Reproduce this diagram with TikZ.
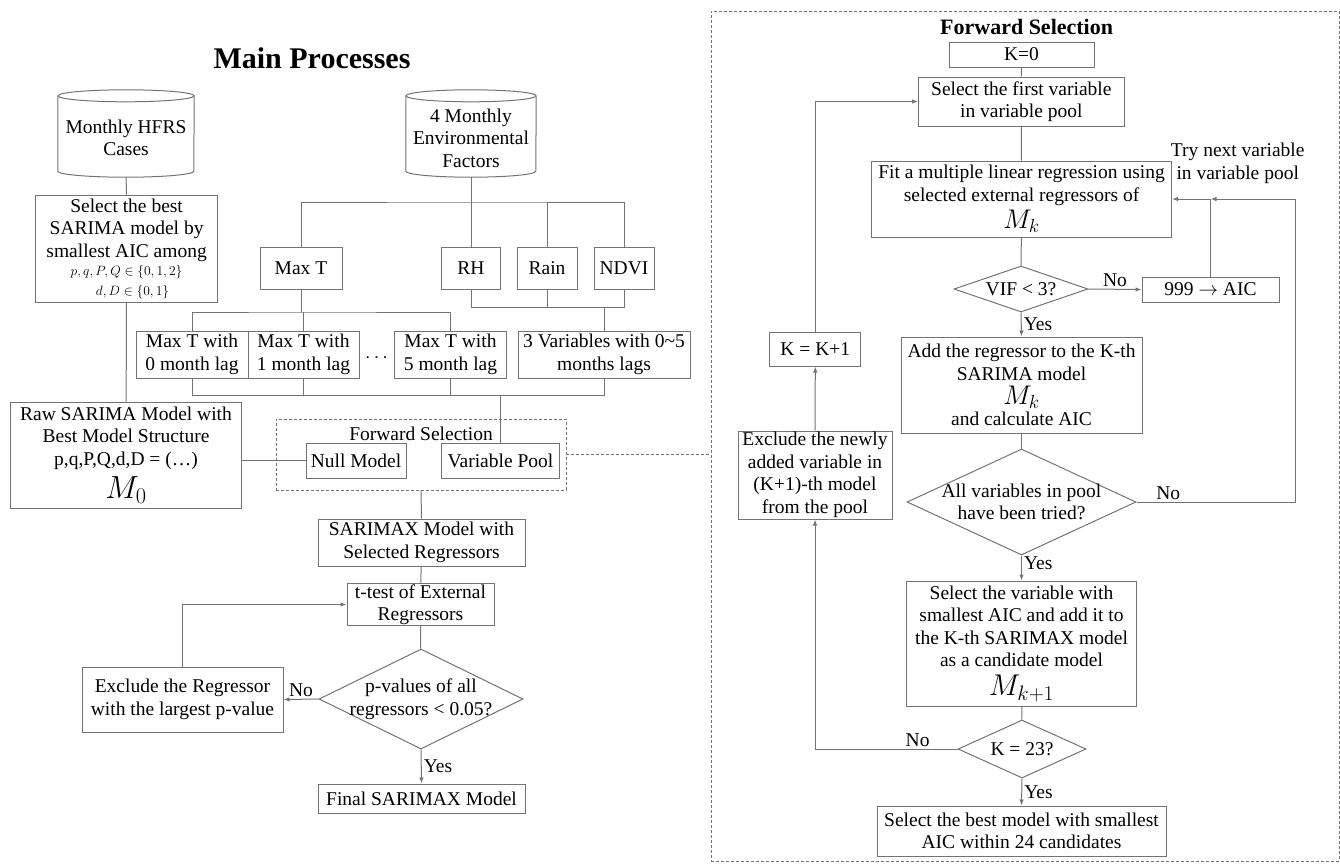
\RequirePackage{fix-cm}
\documentclass[tikz,border=0pt]{standalone}
\usepackage{fontspec}
\setmainfont{Liberation Serif}
\usetikzlibrary{shapes.geometric, arrows.meta}

\newcommand{\bodyfont}{\fontsize{19.5}{22.5}\selectfont}

\tikzset{
    line/.style = {draw=black!55, line width=1pt},
    arrow/.style = {line, -{Latex[length=6pt,width=4.5pt]}},
    box/.style = {line, align=center, inner sep=1pt, font=\bodyfont},
    store/.style = {align=center, inner sep=0pt, minimum height=78, font=\bodyfont},
    decision/.style = {diamond, line, inner sep=0pt},
    group/.style = {draw=black!55, line width=0.8pt, dash pattern=on 3pt off 2pt},
    lbl/.style = {font=\bodyfont, inner sep=2pt, align=center},
    title/.style = {font=\fontsize{30}{36}\selectfont\bfseries},
}

\begin{document}
\begin{tikzpicture}[x=1pt, y=1pt]
    \useasboundingbox (0,0) rectangle (1340,-863);

    % main processes
    \node [title] (maintitle) at (312,-58) {Main Processes};

    \node [store, minimum width=136] (hfrs) at (126,-138) {Monthly HFRS\\Cases};
    \node [store, minimum width=130] (env) at (471,-138) {4 Monthly\\Environmental\\Factors};

    \draw [line] ([yshift=3]hfrs.north) ellipse [x radius=68, y radius=6];
    \draw [line]
        ([yshift=3]hfrs.north west) -- ([yshift=6]hfrs.south west)
        arc [start angle=180, end angle=360, x radius=68, y radius=6]
        -- ([yshift=3]hfrs.north east)
        ;
    \draw [line] ([yshift=3]env.north) ellipse [x radius=65, y radius=6];
    \draw [line]
        ([yshift=3]env.north west) -- ([yshift=6]env.south west)
        arc [start angle=180, end angle=360, x radius=65, y radius=6]
        -- ([yshift=3]env.north east)
        ;

    \node [box, minimum width=182, minimum height=107] (best) at (126.6,-248.5)
        {Select the best\\SARIMA model by\\smallest AIC among\\[-4pt]
         {\fontsize{13.5}{16}\selectfont $p,q,P,Q\in\{0,1,2\}$}\\[-3pt]
         {\fontsize{13.5}{16}\selectfont \hspace*{12pt}$d,D\in\{0,1\}$}};
    \node [box, minimum width=231, minimum height=106] (raw) at (126,-455)
        {Raw SARIMA Model with\\Best Model Structure\\p,q,P,Q,d,D = (…)\\[6.5pt]
         {\fontsize{32}{32}\selectfont $M_0$}};

    \node [box, minimum width=82, minimum height=42] (maxt) at (301,-268) {Max T};
    \node [box, minimum width=58.5, minimum height=42] (rh) at (471,-268) {RH};
    \node [box, minimum width=60, minimum height=42] (rain) at (547,-268) {Rain};
    \node [box, minimum width=60, minimum height=42] (ndvi) at (624,-268) {NDVI};

    \node [box, minimum width=112, minimum height=47] (lag0) at (192,-354.5) {Max T with\\0 month lag};
    \node [box, minimum width=111, minimum height=47] (lag1) at (303.5,-354.5) {Max T with\\1 month lag};
    \node [font=\bodyfont] (dots) at (376.5,-358) {$\cdots$};
    \node [box, minimum width=112, minimum height=47] (lag5) at (450.5,-354.5) {Max T with\\5 month lag};
    \node [box, minimum width=172, minimum height=47] (threevar) at (604,-354.5)
        {3 Variables with 0\textasciitilde5\\months lags};

    \node [group, minimum width=290, minimum height=71] (fsgroup) at (421,-454.5) {};
    \node [lbl] (fslabel) at (421,-434) {Forward Selection};
    \node [box, minimum width=100, minimum height=35] (null) at (356,-460.5) {Null Model};
    \node [box, minimum width=118, minimum height=35] (pool) at (500.5,-460.5) {Variable Pool};

    \node [box, minimum width=207, minimum height=47] (sarimax) at (421.5,-542.5)
        {SARIMAX Model with\\Selected Regressors};
    \node [box, minimum width=147, minimum height=41] (ttest) at (420.5,-604.5)
        {t-test of External\\Regressors};
    \node [decision, minimum width=204, minimum height=100,
        label={[lbl]center:{p-values of all\\regressors < 0.05?}}] (pval) at (421,-699) {};
    \node [box, minimum width=201, minimum height=65] (drop) at (182.5,-699.5)
        {Exclude the Regressor\\with the largest p-value};
    \node [box, minimum width=207, minimum height=29] (final) at (421.5,-798.5) {Final SARIMAX Model};

    % connectors, left
    \draw [line] (hfrs) -- (best);
    \draw [line] (best) -- (raw);
    \draw [line] (raw.east |- null) -- (null.west);

    \coordinate (envbus) at (471,-202);
    \draw [line] (env) -- (rh);
    \draw [line] (maxt.north) |- (envbus) -| (ndvi.north);
    \draw [line] (rain.north) -- (rain.north |- envbus);

    \coordinate (maxbus) at (303.5,-312);
    \draw [line] (maxt.south) -- (maxt.south |- maxbus);
    \draw [line] (lag0.north) |- (maxbus) -| (lag5.north);
    \draw [line] (maxbus) -- (lag1.north);

    \coordinate (varbus) at (604,-307);
    \draw [line] (rh.south) |- (ndvi.south |- varbus) -- (ndvi.south);
    \draw [line] (rain.south) -- (rain.south |- varbus);
    \draw [line] (varbus) -- (threevar.north);

    \coordinate (poolbus) at (500.5,-395);
    \draw [line] (lag0.south) |- (threevar.south |- poolbus) -- (threevar.south);
    \draw [line] (lag1.south) -- (lag1.south |- poolbus);
    \draw [line] (lag5.south) -- (lag5.south |- poolbus);
    \draw [line] (poolbus) -- (pool.north);

    \draw [line] (fsgroup.south) -- (sarimax.north);
    \draw [line] (sarimax) -- (ttest);
    \draw [line] (ttest) -- (pval);
    \draw [arrow] (pval.west) -- node [lbl, above] (pvalno) {No} (drop.east);
    \draw [arrow] (drop.north) |- (ttest.west);
    \draw [arrow] (pval.south) -- node [lbl, right] (pvalyes) {Yes} (final.north);

    % forward selection
    \node [group, minimum width=628, minimum height=850] (fsframe) at (1025,-436) {};
    \draw [group] (fsgroup.east) -- (fsgroup.east -| fsframe.west);

    \node [title, font=\fontsize{22}{26}\selectfont\bfseries] (fstitle) at (1026.6,-27) {Forward Selection};
    \node [box, minimum width=145, minimum height=25] (kzero) at (1021.5,-54.5) {K=0};
    \node [box, minimum width=205.5, minimum height=49] (first) at (1021.3,-101.5)
        {Select the first variable\\in variable pool};
    \node [box, minimum width=300, minimum height=76] (fit) at (1021.5,-199)
        {Fit a multiple linear regression using\\selected external regressors of\\[4pt]
         {\fontsize{27}{27}\selectfont $M_k$}};
    \node [lbl] (trynext) at (1237.7,-163.5) {Try next variable\\in variable pool};
    \node [decision, minimum width=134, minimum height=46,
        label={[lbl]center:{VIF < 3?}}] (vif) at (1021,-289) {};
    \node [box, minimum width=137, minimum height=25] (aic) at (1210.5,-289.5) {999 $\rightarrow$ AIC};
    \node [box, minimum width=241, minimum height=96] (add) at (1021.5,-385)
        {Add the regressor to the K-th\\SARIMA model\\[2pt]
         {\fontsize{27}{27}\selectfont $M_k$}\\[-1.5pt]and calculate AIC};
    \node [decision, minimum width=229, minimum height=106,
        label={[lbl]center:{All variables in pool\\have been tried?}}] (all) at (1021.5,-502) {};
    \node [box, minimum width=230, minimum height=125] (pick) at (1021.5,-643.5)
        {Select the variable with\\smallest AIC and add it to\\the K-th SARIMAX model\\as a candidate model\\[6.5pt]
         {\fontsize{30}{30}\selectfont $M_{k+1}$}};
    \node [decision, minimum width=128, minimum height=58,
        label={[lbl]center:{K = 23?}}] (kend) at (1022,-749) {};
    \node [box, minimum width=289, minimum height=50] (bestmodel) at (1021.5,-831)
        {Select the best model with smallest\\AIC within 24 candidates};
    \node [box, minimum width=91, minimum height=34] (kinc) at (815.3,-349) {K = K+1};
    \node [box, minimum width=154, minimum height=88] (dropnew) at (815,-475)
        {Exclude the newly\\added variable in\\(K+1)-th model\\from the pool};

    % connectors, right
    \coordinate (tryback) at (1295.3,-199);
    \draw [line] (kzero) -- (first);
    \draw [line] (first) -- (fit);
    \draw [line] (fit) -- (vif);
    \draw [arrow] (vif.east) -- node [lbl, above] (vifno) {No} (aic.west);
    \draw [arrow] (aic.north) |- (fit.east);
    \draw [arrow] (vif.south) -- node [lbl, right] (vifyes) {Yes} (add.north);
    \draw [line] (add) -- (all);
    \draw [arrow]
        (all.east)
        -| node [lbl, above, pos=0.1] (allno) {No}
        (tryback)
        -- (aic.north |- fit.east)
        ;
    \draw [arrow] (all.south) -- node [lbl, right, pos=0.3] (allyes) {Yes} (pick.north);
    \draw [line] (pick) -- (kend);
    \draw [arrow] (kend.south) -- node [lbl, right] (kendyes) {Yes} (bestmodel.north);
    \draw [arrow]
        (kend.west)
        -| node [lbl, above, pos=0.14] (kendno) {No}
        (dropnew.south)
        ;
    \draw [arrow] (dropnew.north) -- (kinc.south);
    \draw [arrow] (kinc.north) |- (first.west);
\end{tikzpicture}
\end{document}
